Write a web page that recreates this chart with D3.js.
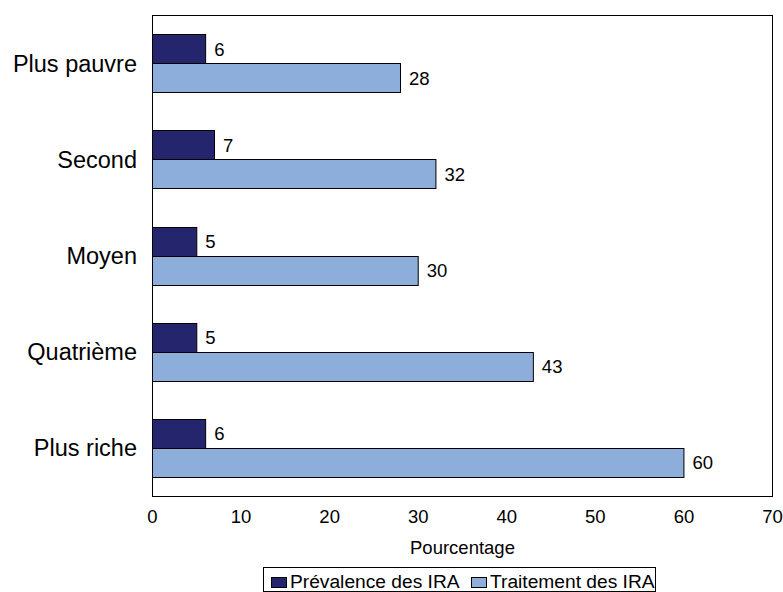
<!DOCTYPE html>
<html><head><meta charset="utf-8">
<script src="https://cdn.jsdelivr.net/npm/d3@7"></script>
<style>body{margin:0;background:#fff}svg{display:block}text{font-family:"Liberation Sans",Arial,sans-serif;fill:#000}</style>
</head><body><svg id="c" width="783" height="592"></svg>
<script>
const categories = ["Plus pauvre","Second","Moyen","Quatrième","Plus riche"];
const prevalence = [6,7,5,5,6];
const traitement = [28,32,30,43,60];
const seriesNames = ["Prévalence des IRA","Traitement des IRA"];
const xTicks = [0,10,20,30,40,50,60,70];
const axisTitle = "Pourcentage";
const colors = ["#25256E","#8DAEDA"];

const svg = d3.select("#c");
const L=152,R=772,T=15,B=496;
const x = d3.scaleLinear().domain([0,70]).range([L,R]);
const y = d3.scaleBand().domain(categories).range([T,B]).paddingInner(0.4).paddingOuter(0.2);
const y1 = d3.scaleBand().domain([0,1]).range([0,y.bandwidth()]);
const series=[prevalence,traitement];

svg.append("rect").attr("x",L+0.5).attr("y",T+0.5).attr("width",R-L).attr("height",B-T)
  .attr("fill","none").attr("stroke","#000").attr("stroke-width",1);

categories.forEach((c,i)=>{
  series.forEach((s,j)=>{
    const yy=y(c)+y1(j);
    svg.append("rect").attr("x",x(0)+0.5).attr("y",Math.round(yy)+0.5)
      .attr("width",x(s[i])-x(0)).attr("height",Math.round(y1.bandwidth()))
      .attr("fill",colors[j]).attr("stroke","#000").attr("stroke-width",1);
    svg.append("text").attr("x",x(s[i])+9).attr("y",yy+y1.bandwidth()/2+7)
      .attr("font-size",18.5).text(s[i]);
  });
  svg.append("text").attr("x",137).attr("y",y(c)+y.bandwidth()/2+8.5)
    .attr("text-anchor","end").attr("font-size",23.5).text(c);
});

const ax = svg.append("g").attr("transform",`translate(0,${B})`)
  .call(d3.axisBottom(x).tickValues(xTicks).tickSize(0).tickPadding(14));
ax.select(".domain").remove();
ax.selectAll("text").attr("font-size",18.5).attr("font-family","Liberation Sans, Arial, sans-serif").attr("fill","#000");

svg.append("text").attr("x",(L+R)/2 + 0.5).attr("y",554).attr("text-anchor","middle").attr("font-size",18.5).text(axisTitle);

const lg = svg.append("g");
lg.append("rect").attr("x",263.5).attr("y",567.5).attr("width",392).attr("height",24).attr("fill","#fff").attr("stroke","#000");
const lx=[271,471];
seriesNames.forEach((n,j)=>{
  lg.append("rect").attr("x",lx[j]+0.5).attr("y",577.5).attr("width",15).attr("height",10)
    .attr("fill",colors[j]).attr("stroke","#000");
  lg.append("text").attr("x",lx[j]+19).attr("y",588).attr("font-size",19.2).text(n);
});
</script></body></html>
